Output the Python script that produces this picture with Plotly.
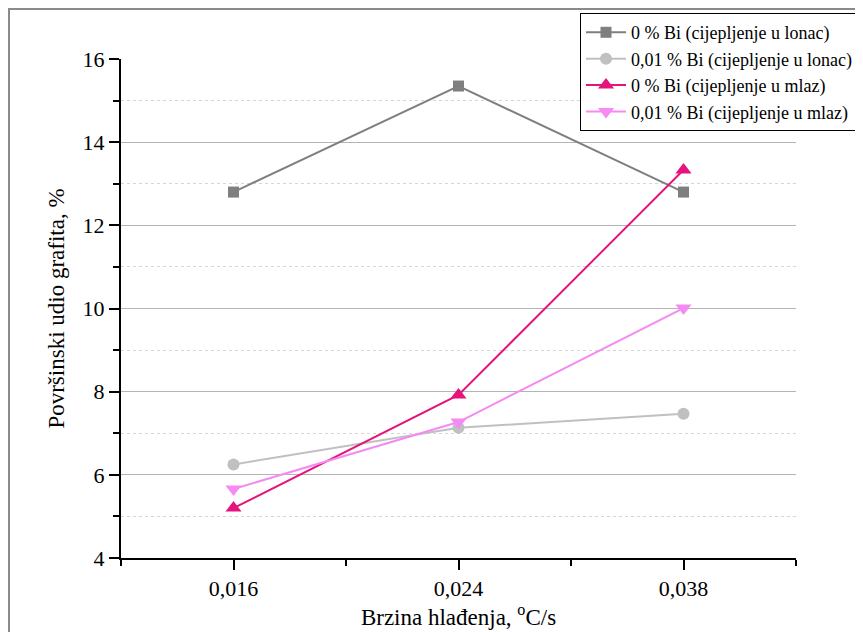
import plotly.graph_objects as go

categories = ["0,016", "0,024", "0,038"]
x_pos = [1, 2, 3]

series_names = [
    "0 % Bi (cijepljenje u lonac)",
    "0,01 % Bi (cijepljenje u lonac)",
    "0 % Bi (cijepljenje u mlaz)",
    "0,01 % Bi (cijepljenje u mlaz)",
]
s1 = [12.8, 15.35, 12.8]
s2 = [6.25, 7.13, 7.47]
s3 = [5.2, 7.92, 13.33]
s4 = [5.66, 7.27, 10.01]

colors = ["#7f7f7f", "#c0c0c0", "#e5137c", "#f48af2"]
symbols = ["square", "circle", "triangle-up", "triangle-down"]
sizes = [11, 12, 14, 14]

fig = go.Figure()
for name, ys, c, sym, sz in zip(series_names, [s1, s2, s3, s4], colors, symbols, sizes):
    fig.add_trace(go.Scatter(
        x=x_pos, y=ys, name=name, mode="lines+markers",
        line=dict(color=c, width=2),
        marker=dict(symbol=sym, size=sz, color=c),
    ))

font_family = "Liberation Serif, Times New Roman, serif"

fig.update_layout(
    width=863, height=632,
    margin=dict(l=113, r=75, t=51, b=82, autoexpand=False),
    paper_bgcolor="white", plot_bgcolor="white",
    font=dict(family=font_family, color="black"),
    showlegend=True,
    legend=dict(
        x=0.68, y=1.092, xanchor="left", yanchor="top",
        bgcolor="white", bordercolor="black", borderwidth=1,
        font=dict(size=18, family=font_family, color="black"),
        tracegroupgap=0, itemwidth=40,
    ),
    xaxis=dict(
        range=[0.5, 3.5], tickmode="array", tickvals=x_pos, ticktext=categories,
        showline=True, linecolor="black", linewidth=2, mirror=False,
        ticks="outside", ticklen=10, tickwidth=2, tickcolor="black",
        showgrid=False, zeroline=False, automargin=False,
        tickfont=dict(size=22, family=font_family),
        title=dict(text="Brzina hlađenja, <sup>o</sup>C/s", font=dict(size=23, family=font_family), standoff=6),
        minor=dict(tick0=0.5, dtick=1, ticks="outside", ticklen=6, tickwidth=2, tickcolor="black", showgrid=False),
    ),
    yaxis=dict(
        range=[4, 16], tick0=4, dtick=2,
        showline=True, linecolor="black", linewidth=2,
        ticks="outside", ticklen=10, tickwidth=2, tickcolor="black",
        showgrid=True, gridcolor="#b4b4b4", gridwidth=1.3, zeroline=False, automargin=False,
        tickfont=dict(size=22, family=font_family),
        title=dict(text="Površinski udio grafita, %", font=dict(size=23, family=font_family), standoff=12),
        minor=dict(tick0=5, dtick=2, ticks="outside", ticklen=6, tickwidth=2, tickcolor="black",
                   showgrid=True, gridcolor="#d6d6d6", griddash="dot", gridwidth=1),
    ),
    shapes=[dict(type="rect", xref="paper", yref="paper",
                 x0=(9 - 121) / 675, x1=(875 - 121) / 675,
                 y0=(558 - 645) / 499, y1=(558 - 9) / 499,
                 line=dict(color="#8a8a8a", width=2), fillcolor="rgba(0,0,0,0)", layer="below")],
)

fig.write_html("out.html")
